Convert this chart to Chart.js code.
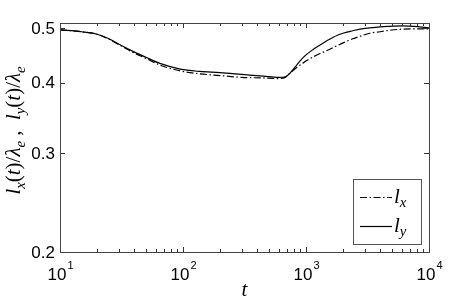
<!DOCTYPE html>
<html>
<head>
<meta charset="utf-8">
<script src="https://cdn.jsdelivr.net/npm/chart.js@4"></script>
<style>
  body { margin: 0; background: #fff; }
  #wrap { width: 450px; height: 301px; }
</style>
</head>
<body>
<div id="wrap"><canvas id="myChart" width="450" height="301"></canvas></div>
<script>
// values
const times = [10, 15, 20, 25, 31, 40, 50, 65, 95, 137, 200, 300, 450, 600, 680, 740, 840, 950, 1150, 1300, 1500, 1800, 2000, 2400, 2750, 3300, 4000, 4800, 6200, 7500, 10000];
const lx = [0.497, 0.493, 0.488, 0.478, 0.466, 0.452, 0.442, 0.430, 0.420, 0.415, 0.412, 0.409, 0.408, 0.407, 0.409, 0.416, 0.426, 0.434, 0.445, 0.451, 0.457, 0.466, 0.471, 0.479, 0.484, 0.490, 0.493, 0.496, 0.4985, 0.499, 0.499];
const ly = [0.497, 0.493, 0.488, 0.479, 0.467, 0.454, 0.444, 0.433, 0.423, 0.419, 0.417, 0.414, 0.411, 0.409, 0.410, 0.416, 0.430, 0.444, 0.459, 0.467, 0.476, 0.486, 0.490, 0.495, 0.4985, 0.501, 0.503, 0.504, 0.505, 0.504, 0.501];

const xTicks = [10, 100, 1000, 10000];
const xTickExp = ['1', '2', '3', '4'];
const yTicks = [0.2, 0.3, 0.4, 0.5];
const yTickLabels = ['0.2', '0.3', '0.4', '0.5'];

const sans = '"Liberation Sans", Arial, sans-serif';
const serif = '"Liberation Serif", "DejaVu Serif", serif';
const dashDot = [7, 2.5, 1.5, 2.5];

// draws little bits of math: [text, italic?, subscript?]
function mathWidth(ctx, parts, size) {
  let w = 0;
  parts.forEach(([t, it, sub]) => {
    ctx.font = (it ? 'italic ' : '') + (sub ? size * 0.7 : size) + 'px ' + serif;
    w += ctx.measureText(t).width;
  });
  return w;
}
function drawMath(ctx, parts, x, y, size) {
  ctx.textAlign = 'left';
  ctx.textBaseline = 'alphabetic';
  parts.forEach(([t, it, sub]) => {
    ctx.font = (it ? 'italic ' : '') + (sub ? size * 0.7 : size) + 'px ' + serif;
    ctx.fillText(t, x, sub ? y + size * 0.22 : y);
    x += ctx.measureText(t).width;
  });
}

const axesPlugin = {
  id: 'axesPlugin',
  afterDraw(chart) {
    const { ctx, chartArea: a, scales: { x, y } } = chart;
    ctx.save();
    ctx.strokeStyle = '#333';
    ctx.fillStyle = '#000';
    ctx.lineWidth = 1;

    // minor x ticks
    ctx.beginPath();
    for (let d = 1; d < 4; d++) {
      for (let k = 2; k < 10; k++) {
        const px = Math.round(x.getPixelForValue(k * Math.pow(10, d))) + 0.5;
        ctx.moveTo(px, a.bottom); ctx.lineTo(px, a.bottom - 3);
        ctx.moveTo(px, a.top); ctx.lineTo(px, a.top + 3);
      }
    }
    xTicks.forEach(v => {
      const px = Math.round(x.getPixelForValue(v)) + 0.5;
      ctx.moveTo(px, a.bottom); ctx.lineTo(px, a.bottom - 5);
      ctx.moveTo(px, a.top); ctx.lineTo(px, a.top + 5);
    });
    yTicks.forEach(v => {
      const py = Math.round(y.getPixelForValue(v)) + 0.5;
      ctx.moveTo(a.left, py); ctx.lineTo(a.left + 5, py);
      ctx.moveTo(a.right, py); ctx.lineTo(a.right - 5, py);
    });
    ctx.stroke();

    // box
    ctx.strokeStyle = '#444';
    ctx.strokeRect(a.left + 0.5, a.top + 0.5, a.right - a.left, a.bottom - a.top);

    // y tick labels
    ctx.font = '17px ' + sans;
    ctx.textAlign = 'right';
    ctx.textBaseline = 'middle';
    yTicks.forEach((v, i) => {
      ctx.fillText(yTickLabels[i], a.left - 5, y.getPixelForValue(v) + 1);
    });

    // x tick labels 10^n
    ctx.textBaseline = 'alphabetic';
    ctx.textAlign = 'left';
    xTicks.forEach((v, i) => {
      ctx.font = '17px ' + sans;
      const wb = ctx.measureText('10').width;
      ctx.font = '11px ' + sans;
      const we = ctx.measureText(xTickExp[i]).width;
      const x0 = x.getPixelForValue(v) - (wb + we) / 2;
      ctx.font = '17px ' + sans;
      ctx.fillText('10', x0, a.bottom + 28);
      ctx.font = '11px ' + sans;
      ctx.fillText(xTickExp[i], x0 + wb + 1, a.bottom + 17);
    });

    // axis titles
    const tw = mathWidth(ctx, [['t', true]], 21);
    drawMath(ctx, [['t', true]], (a.left + a.right) / 2 - tw / 2, a.bottom + 44, 21);

    const yTitle = [['l', true], ['x', true, true], ['(', false], ['t', true], [')/', false], ['λ', true], ['e', true, true],
      [' ,  ', false], ['l', true], ['y', true, true], ['(', false], ['t', true], [')/', false], ['λ', true], ['e', true, true]];
    const yw = mathWidth(ctx, yTitle, 21);
    ctx.save();
    ctx.translate(20, (a.top + a.bottom) / 2 - 7);
    ctx.rotate(-Math.PI / 2);
    drawMath(ctx, yTitle, -yw / 2, 0, 21);
    ctx.restore();

    // legend
    const lg = { left: 353, top: 179, right: 421, bottom: 244 };
    ctx.fillStyle = '#fff';
    ctx.fillRect(lg.left, lg.top, lg.right - lg.left, lg.bottom - lg.top);
    ctx.strokeStyle = '#555';
    ctx.strokeRect(lg.left + 0.5, lg.top + 0.5, lg.right - lg.left, lg.bottom - lg.top);
    const rows = [{ ds: chart.data.datasets[0], sub: 'x', yy: 197.5 }, { ds: chart.data.datasets[1], sub: 'y', yy: 226.5 }];
    rows.forEach(r => {
      ctx.strokeStyle = r.ds.borderColor;
      ctx.lineWidth = r.ds.borderWidth;
      ctx.setLineDash(r.ds.borderDash || []);
      ctx.beginPath();
      ctx.moveTo(lg.left + 7, r.yy); ctx.lineTo(lg.left + 39, r.yy);
      ctx.stroke();
      ctx.setLineDash([]);
      ctx.fillStyle = '#000';
      drawMath(ctx, [['l', true], [r.sub, true, true]], lg.left + 41, r.yy + 5, 21);
    });
    ctx.restore();
  }
};

const ctx = document.getElementById('myChart').getContext('2d');
const chart = new Chart(ctx, {
  type: 'line',
  data: {
    datasets: [{
      label: 'lx',
      data: times.map((t, i) => ({ x: t, y: lx[i] })),
      borderColor: '#000',
      borderWidth: 1.2,
      borderDash: dashDot,
      pointRadius: 0,
      fill: false,
      cubicInterpolationMode: 'monotone'
    }, {
      label: 'ly',
      data: times.map((t, i) => ({ x: t, y: ly[i] })),
      borderColor: '#000',
      borderWidth: 1.2,
      pointRadius: 0,
      fill: false,
      cubicInterpolationMode: 'monotone'
    }]
  },
  options: {
    responsive: false,
    animation: false,
    devicePixelRatio: 1,
    layout: { padding: { left: 60, top: 23, right: 21, bottom: 49 } },
    scales: {
      x: { type: 'logarithmic', min: 10, max: 10000, display: false },
      y: { type: 'logarithmic', min: 0.2, max: 0.511, display: false }
    },
    plugins: { legend: { display: false }, tooltip: { enabled: false } }
  },
  plugins: [axesPlugin]
});
</script>
</body>
</html>
